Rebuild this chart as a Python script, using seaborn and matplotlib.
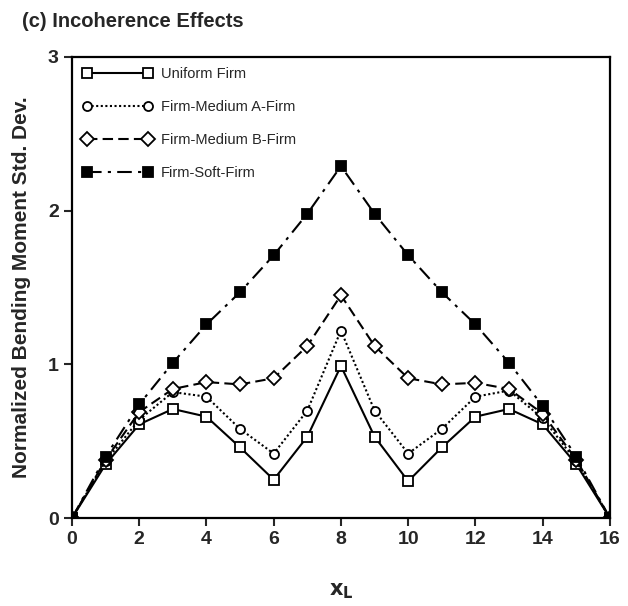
import matplotlib
matplotlib.use("Agg")
import matplotlib.pyplot as plt
import seaborn as sns
import numpy as np

# Normalized bending moment std. dev. along the pipe, per soil profile
x_l = list(range(17))
uniform_firm = [0, 0.35, 0.61, 0.71, 0.66, 0.46, 0.25, 0.53, 0.99,
                0.53, 0.24, 0.46, 0.66, 0.71, 0.61, 0.35, 0]
medium_a = [0, 0.37, 0.64, 0.82, 0.79, 0.58, 0.42, 0.70, 1.22,
            0.70, 0.42, 0.58, 0.79, 0.83, 0.65, 0.37, 0]
medium_b = [0, 0.38, 0.69, 0.84, 0.885, 0.87, 0.91, 1.12, 1.45,
            1.12, 0.91, 0.87, 0.88, 0.84, 0.68, 0.38, 0]
soft = [0, 0.40, 0.74, 1.01, 1.26, 1.47, 1.71, 1.98, 2.29,
        1.98, 1.71, 1.47, 1.26, 1.01, 0.73, 0.40, 0]

series_names = ["Uniform Firm", "Firm-Medium A-Firm", "Firm-Medium B-Firm", "Firm-Soft-Firm"]
x_ticks = [0, 2, 4, 6, 8, 10, 12, 14, 16]
y_ticks = [0, 1, 2, 3]

sns.set_theme(style="ticks")
plt.rcParams["font.family"] = ["Liberation Sans", "DejaVu Sans"]

fig = plt.figure(figsize=(6.28, 6.06), dpi=100)
ax = fig.add_axes([0.1146, 0.145, 0.8566, 0.761])

styles = [
    dict(marker="s", linestyle="-", mfc="white", ms=7),
    dict(marker="o", linestyle=(0, (1, 1.2)), mfc="white", ms=6.5),
    dict(marker="D", linestyle=(0, (5, 2.5)), mfc="white", ms=7),
    dict(marker="s", linestyle=(0, (7, 3, 1.5, 3)), mfc="black", ms=7),
]
for name, vals, st in zip(series_names, [uniform_firm, medium_a, medium_b, soft], styles):
    sns.lineplot(x=x_l, y=vals, ax=ax, color="black", linewidth=1.5,
                 marker=st["marker"], linestyle=st["linestyle"],
                 markerfacecolor=st["mfc"], markeredgecolor="black",
                 markeredgewidth=1.3, markersize=st["ms"], label=name)

ax.set_xlim(0, 16)
ax.set_ylim(0, 3)
ax.set_xticks(x_ticks)
ax.set_yticks(y_ticks)
ax.tick_params(direction="out", length=6, width=1.5, labelsize=14)
for lbl in ax.get_xticklabels() + ax.get_yticklabels():
    lbl.set_fontweight("bold")
for sp in ax.spines.values():
    sp.set_linewidth(1.6)
    sp.set_color("black")

ax.set_xlabel(r"$\mathbf{x_L}$", fontsize=15, labelpad=24)
ax.set_ylabel("Normalized Bending Moment Std. Dev.", fontsize=15,
              fontweight="bold", labelpad=12)

fig.text(0.035, 0.965, "(c) Incoherence Effects", fontsize=14.5,
         fontweight="bold", ha="left", va="center")

leg = ax.legend(loc="upper left", frameon=False, numpoints=2,
                handlelength=4.8, labelspacing=1.3, handletextpad=0.6,
                borderaxespad=0.3,
                prop={"family": ["Liberation Sans Narrow", "Liberation Sans"], "size": 10.5})

fig.savefig("out.png", dpi=100)
